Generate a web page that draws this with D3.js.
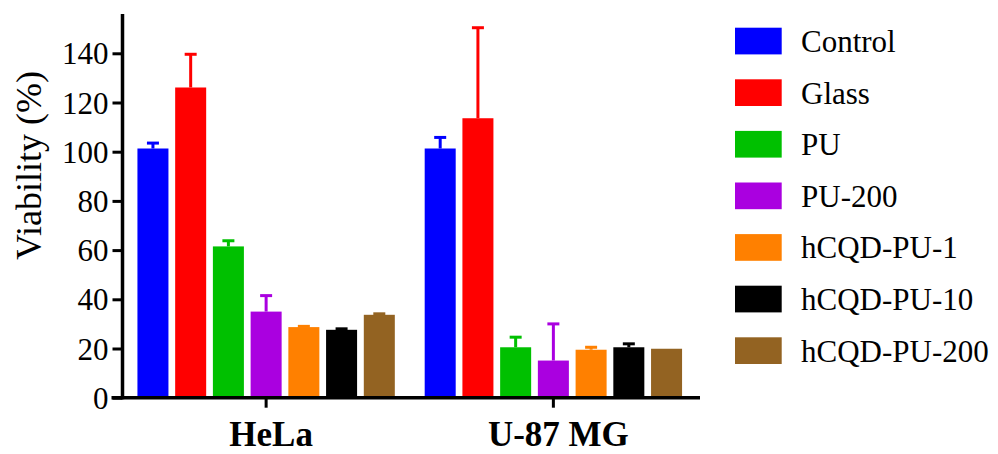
<!DOCTYPE html>
<html>
<head>
<meta charset="utf-8">
<script src="https://cdn.jsdelivr.net/npm/d3@7"></script>
</head>
<body style="margin:0;background:#fff">
<svg id="chart" width="998" height="454" style="display:block"></svg>
<script>
const groups = ["HeLa", "U-87 MG"];
const series = ["Control", "Glass", "PU", "PU-200", "hCQD-PU-1", "hCQD-PU-10", "hCQD-PU-200"];
const colors = ["#0000ff", "#ff0000", "#00c000", "#aa00e0", "#ff8000", "#000000", "#936322"];
const helaMean = [101.3, 126.1, 61.5, 35.0, 28.7, 27.6, 33.7];
const helaErr  = [2.2, 13.5, 2.3, 6.5, 0.3, 0.4, 0.4];
const u87Mean  = [101.3, 113.6, 20.5, 15.1, 19.5, 20.5, 19.9];
const u87Err   = [4.5, 36.8, 4.1, 14.9, 1.0, 1.4, 0.0];
const yTicks = [0, 20, 40, 60, 80, 100, 120, 140];
const yLabel = "Viability (%)";

const means = [helaMean, u87Mean];
const errs = [helaErr, u87Err];
const data = [];
groups.forEach((g, gi) => series.forEach((s, si) => {
  data.push({ group: g, series: s, mean: means[gi][si], err: errs[gi][si], color: colors[si] });
}));

const svg = d3.select("#chart");
const axisX = 122.5, axisY = 397.7;
const FONT = '"Liberation Serif", "Times New Roman", serif';

const y = d3.scaleLinear().domain([0, 156]).range([axisY, axisY - 156 * 2.46]);
const x0 = d3.scaleBand().domain(groups).range([axisX, 697]).paddingInner(0.104).paddingOuter(0.052);
const x1 = d3.scaleBand().domain(series).range([0, x0.bandwidth()]).paddingInner(0.178).paddingOuter(0);

// bars
svg.append("g").selectAll("rect").data(data).join("rect")
  .attr("x", d => x0(d.group) + x1(d.series))
  .attr("y", d => y(d.mean))
  .attr("width", x1.bandwidth())
  .attr("height", d => y(0) - y(d.mean))
  .attr("fill", d => d.color);

// error bars
const capW = 12;
const eb = svg.append("g").selectAll("g").data(data.filter(d => d.err > 0)).join("g")
  .attr("stroke", d => d.color).attr("stroke-width", 3);
eb.append("line")
  .attr("x1", d => x0(d.group) + x1(d.series) + x1.bandwidth() / 2)
  .attr("x2", d => x0(d.group) + x1(d.series) + x1.bandwidth() / 2)
  .attr("y1", d => y(d.mean))
  .attr("y2", d => y(d.mean + d.err));
eb.append("line")
  .attr("x1", d => x0(d.group) + x1(d.series) + x1.bandwidth() / 2 - capW / 2)
  .attr("x2", d => x0(d.group) + x1(d.series) + x1.bandwidth() / 2 + capW / 2)
  .attr("y1", d => y(d.mean + d.err))
  .attr("y2", d => y(d.mean + d.err));

// y axis
const yAxis = svg.append("g").attr("transform", `translate(${axisX},0)`)
  .call(d3.axisLeft(y).tickValues(yTicks).tickSize(10).tickSizeOuter(0).tickPadding(4));
yAxis.attr("font-family", null).attr("font-size", null);
yAxis.select(".domain").remove();
yAxis.selectAll(".tick line").attr("stroke", "#000").attr("stroke-width", 3);
yAxis.selectAll(".tick text")
  .style("font-family", FONT).style("font-size", "31px")
  .attr("fill", "#000").attr("dy", "0.34em");
svg.append("line").attr("x1", axisX).attr("x2", axisX).attr("y1", y(156)).attr("y2", axisY + 1.6)
  .attr("stroke", "#000").attr("stroke-width", 3.5);

// x axis
const xAxis = svg.append("g").attr("transform", `translate(0,${axisY})`)
  .call(d3.axisBottom(x0).tickSize(10).tickSizeOuter(0));
xAxis.select(".domain").remove();
xAxis.selectAll(".tick line").attr("stroke", "#000").attr("stroke-width", 3);
xAxis.selectAll(".tick text").remove();
svg.append("line").attr("x1", axisX - 11).attr("x2", 700).attr("y1", axisY).attr("y2", axisY)
  .attr("stroke", "#000").attr("stroke-width", 3.5);
svg.append("g").selectAll("text").data(groups).join("text")
  .attr("x", d => x0(d) + x0.bandwidth() / 2 + 5)
  .attr("y", 446)
  .attr("text-anchor", "middle")
  .attr("fill", "#000")
  .style("font-family", FONT).style("font-weight", "bold").style("font-size", "35px")
  .text(d => d);

// y label
svg.append("text")
  .attr("transform", `translate(41,165.5) rotate(-90)`)
  .attr("text-anchor", "middle")
  .attr("fill", "#000")
  .style("font-family", FONT).style("font-size", "36px")
  .text(yLabel);

// legend
const leg = svg.append("g").selectAll("g").data(series).join("g")
  .attr("transform", (d, i) => `translate(735,${41 + i * 51.6})`);
leg.append("rect").attr("x", 0).attr("y", -13.3).attr("width", 46.7).attr("height", 26.7)
  .attr("fill", (d, i) => colors[i]);
leg.append("text").attr("x", 66).attr("y", 11).attr("fill", "#000")
  .style("font-family", FONT).style("font-size", "31px")
  .text(d => d);
</script>
</body>
</html>
